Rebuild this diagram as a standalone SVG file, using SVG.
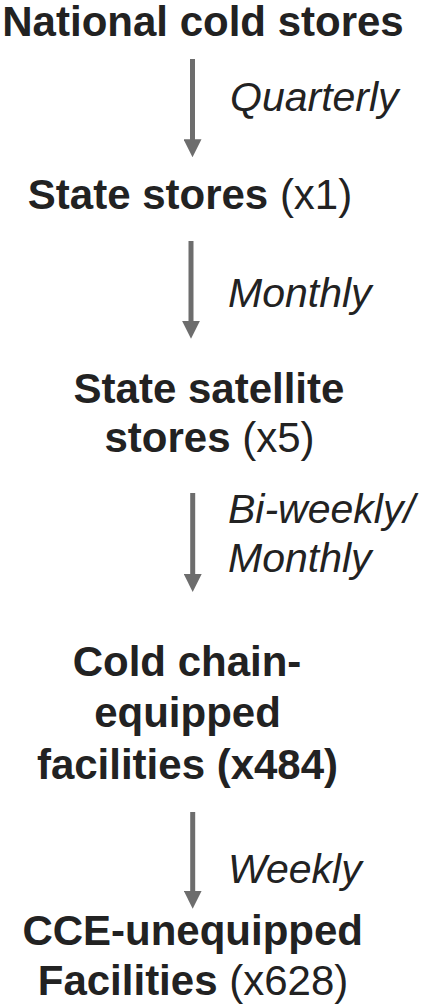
<svg xmlns="http://www.w3.org/2000/svg" width="425" height="1005" viewBox="0 0 425 1005">
  <style>
    text { font-family: "Liberation Sans", Arial, sans-serif; fill: #222222; }
    .node { font-size: 42px; text-anchor: middle; }
    .b { font-weight: bold; }
    .freq { font-size: 41px; font-style: italic; }
    .link { stroke: #6d6d6d; stroke-width: 5; fill: none; }
  </style>
  <defs>
    <marker id="head" viewBox="0 0 18 18" markerWidth="18" markerHeight="18" markerUnits="userSpaceOnUse" refX="1" refY="9" orient="auto">
      <path d="M0,0 L18,9 L0,18 z" fill="#6d6d6d"/>
    </marker>
  </defs>
  <rect width="425" height="1005" fill="#ffffff"/>

  <!-- supply links -->
  <g id="connectors">
    <line class="link" x1="192.5" y1="59" x2="192.5" y2="140.3" marker-end="url(#head)"/>
    <line class="link" x1="191" y1="241" x2="191" y2="321.7" marker-end="url(#head)"/>
    <line class="link" x1="192.7" y1="493" x2="192.7" y2="575" marker-end="url(#head)"/>
    <line class="link" x1="192.7" y1="812" x2="192.7" y2="891.7" marker-end="url(#head)"/>
    <text class="freq" x="230" y="111">Quarterly</text>
    <text class="freq" x="228" y="307">Monthly</text>
    <text class="freq" x="228" y="523">Bi-weekly/</text>
    <text class="freq" x="228" y="572">Monthly</text>
    <text class="freq" x="228" y="883">Weekly</text>
  </g>

  <g id="national">
    <text class="node b" x="203" y="36">National cold stores</text>
  </g>
  <g id="state">
    <text class="node" x="190" y="208.5"><tspan class="b">State stores</tspan> (x1)</text>
  </g>
  <g id="satellite">
    <text class="node b" x="209" y="402.5">State satellite</text>
    <text class="node" x="209.5" y="451.5"><tspan class="b">stores</tspan> (x5)</text>
  </g>
  <g id="cce-equipped">
    <text class="node b" x="187" y="676">Cold chain-</text>
    <text class="node b" x="187.5" y="727">equipped</text>
    <text class="node b" x="187.5" y="779">facilities (x484)</text>
  </g>
  <g id="cce-unequipped">
    <text class="node b" x="192.7" y="945">CCE-unequipped</text>
    <text class="node" x="193" y="995"><tspan class="b">Facilities</tspan> (x628)</text>
  </g>
</svg>
